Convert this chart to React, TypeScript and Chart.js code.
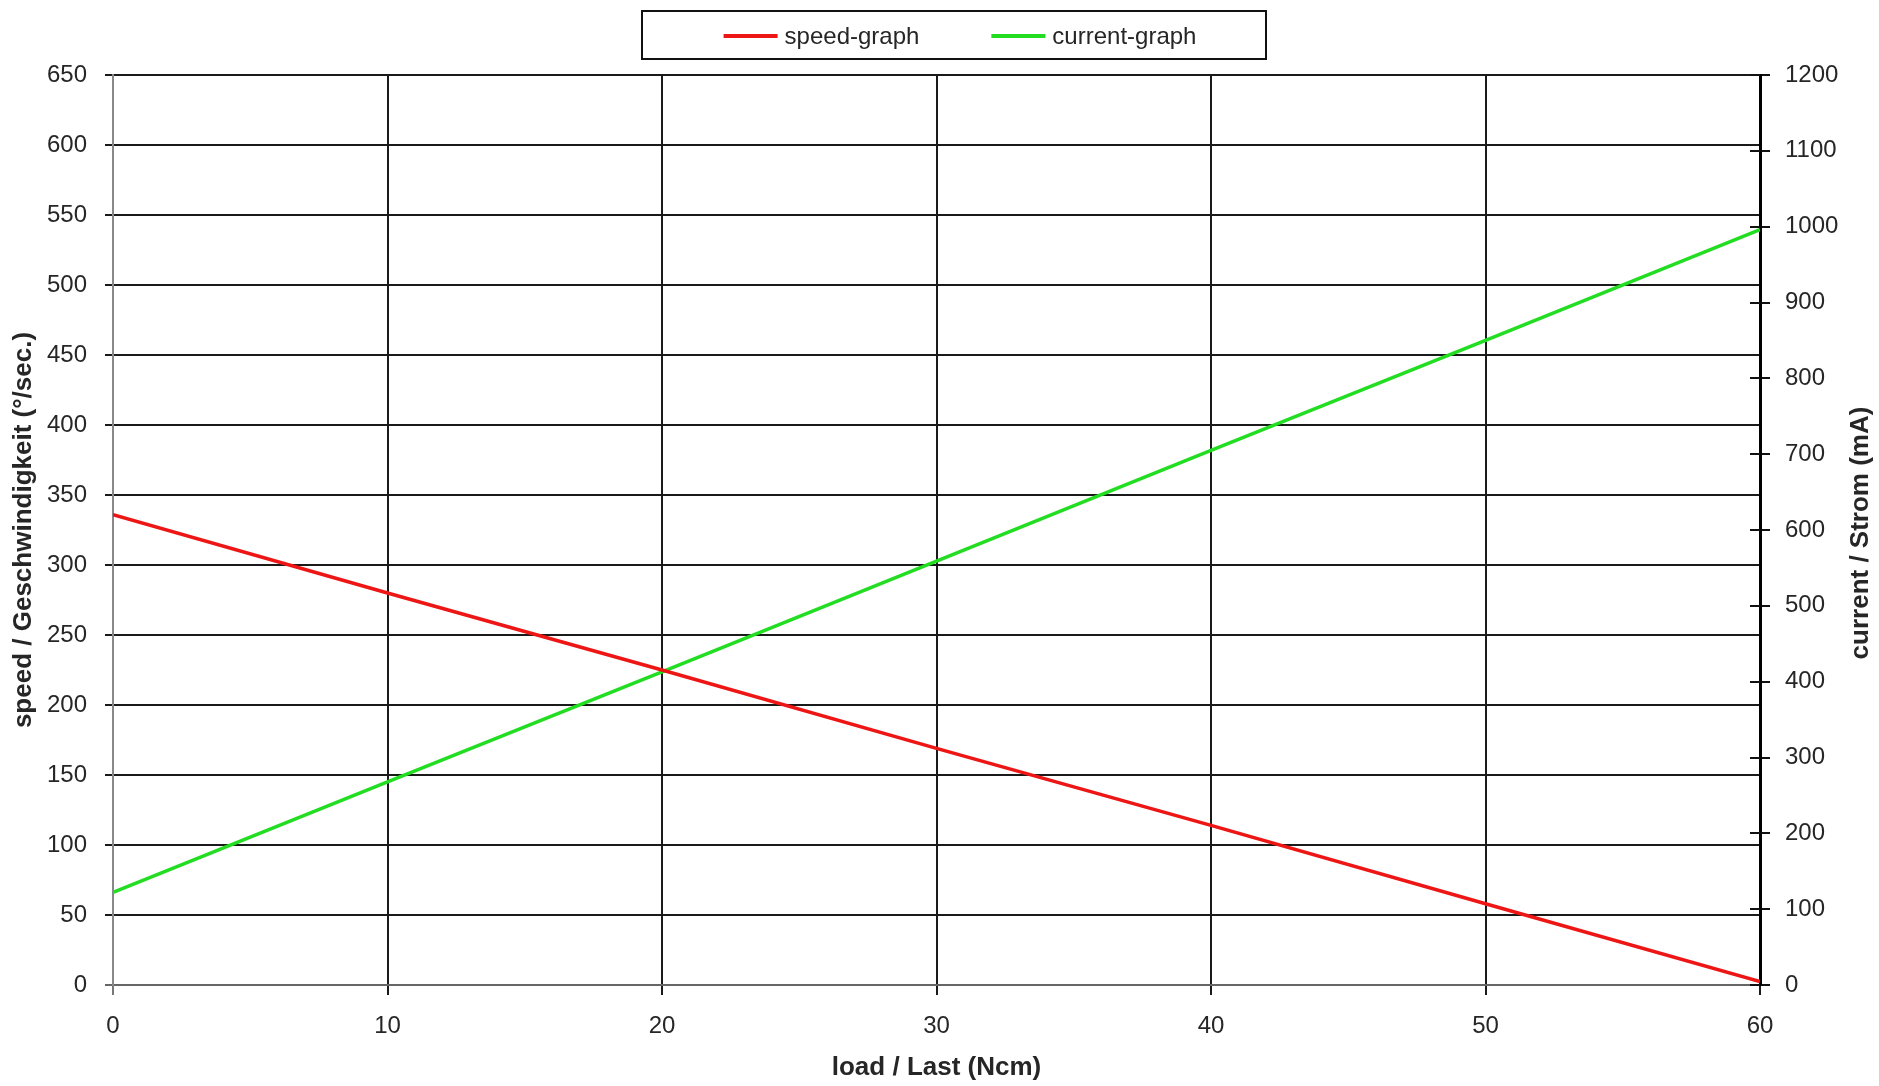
import { useEffect, useRef } from "react";
import { Chart, registerables } from "chart.js";

Chart.register(...registerables);

const loadValues = [0, 10, 20, 30, 40, 50, 60];
const speedValues = [336, 280, 225, 169, 114, 58, 2.5];
const currentValues = [122, 268, 413, 559, 705, 850, 996];
const seriesLabels = ["speed-graph", "current-graph"];
const xTitle = "load / Last (Ncm)";
const yLeftTitle = "speed / Geschwindigkeit (°/sec.)";
const yRightTitle = "current / Strom (mA)";

const FONT = '"Liberation Sans", Arial, Helvetica, sans-serif';
const TEXT = "#262626";
const GRID = "#1a1a1a";

const plainTick = (v: any) => String(v);

const legendPlugin = {
  id: "boxLegend",
  afterDraw(chart: any) {
    const ctx = chart.ctx;
    ctx.save();
    ctx.lineWidth = 2;
    ctx.strokeStyle = "#111";
    ctx.strokeRect(642, 11, 624, 48);
    ctx.font = `24px ${FONT}`;
    ctx.textBaseline = "middle";
    const items = chart.data.datasets.map((ds: any) => ({
      label: ds.label,
      color: ds.borderColor,
      w: ctx.measureText(ds.label).width,
    }));
    const lineW = 54, gap = 7, itemGap = 72;
    const total =
      items.reduce((s: number, it: any) => s + lineW + gap + it.w, 0) +
      itemGap * (items.length - 1);
    let x = 960 - total / 2;
    const y = 36;
    items.forEach((it: any) => {
      ctx.strokeStyle = it.color;
      ctx.lineWidth = 4;
      ctx.beginPath();
      ctx.moveTo(x, y);
      ctx.lineTo(x + lineW, y);
      ctx.stroke();
      ctx.fillStyle = TEXT;
      ctx.fillText(it.label, x + lineW + gap, y + 1);
      x += lineW + gap + it.w + itemGap;
    });
    ctx.restore();
  },
};

const rightAxisPlugin = {
  id: "rightAxisExtras",
  afterDraw(chart: any) {
    const ctx = chart.ctx;
    const s = chart.scales.y1;
    ctx.save();
    ctx.strokeStyle = "#111";
    ctx.lineWidth = 2;
    s.ticks.forEach((t: any) => {
      const py = Math.round(s.getPixelForValue(t.value));
      ctx.beginPath();
      ctx.moveTo(s.left - 10, py);
      ctx.lineTo(s.left, py);
      ctx.stroke();
    });
    const ca = chart.chartArea;
    ctx.translate(1861, (ca.top + ca.bottom) / 2 + 3);
    ctx.rotate(-Math.PI / 2);
    ctx.font = `bold 26px ${FONT}`;
    ctx.fillStyle = TEXT;
    ctx.textAlign = "center";
    ctx.textBaseline = "middle";
    ctx.fillText(yRightTitle, 0, 0);
    ctx.restore();
  },
};

export default function App() {
  const ref = useRef<HTMLCanvasElement | null>(null);

  useEffect(() => {
    if (!ref.current) return;
    const chart = new Chart(ref.current, {
      type: "line",
      data: {
        datasets: [
          {
            label: seriesLabels[0],
            data: loadValues.map((x, i) => ({ x, y: speedValues[i] })),
            borderColor: "#ee1515",
            backgroundColor: "#ee1515",
            borderWidth: 3.5,
            pointRadius: 0,
            yAxisID: "y",
          },
          {
            label: seriesLabels[1],
            data: loadValues.map((x, i) => ({ x, y: currentValues[i] })),
            borderColor: "#22dd22",
            backgroundColor: "#22dd22",
            borderWidth: 3.5,
            pointRadius: 0,
            yAxisID: "y1",
          },
        ],
      },
      options: {
        animation: false,
        responsive: true,
        maintainAspectRatio: false,
        layout: { padding: { top: 75, left: 0, right: 0, bottom: 0 } },
        plugins: {
          legend: { display: false },
          tooltip: { enabled: false },
        },
        scales: {
          x: {
            type: "linear",
            min: 0,
            max: 60,
            afterFit: (s: any) => {
              s.height = 101;
            },
            ticks: {
              stepSize: 10,
              padding: 17,
              color: TEXT,
              font: { family: FONT, size: 24 },
              callback: plainTick,
            },
            grid: {
              color: (c: any) => (c.index === 0 ? "#777" : GRID),
              lineWidth: 2,
              tickLength: 10,
            },
            border: { color: "#666", width: 2 },
            title: {
              display: true,
              text: xTitle,
              color: TEXT,
              font: { family: FONT, size: 26, weight: "bold" },
              padding: { top: 0, bottom: 3 },
            },
          },
          y: {
            position: "left",
            min: 0,
            max: 650,
            afterFit: (s: any) => {
              s.width = 113;
            },
            ticks: {
              stepSize: 50,
              padding: 18,
              color: TEXT,
              font: { family: FONT, size: 24 },
              callback: plainTick,
            },
            grid: {
              color: (c: any) => (c.index === 0 ? "#666" : GRID),
              lineWidth: 2,
              tickLength: 8,
            },
            border: { color: "#888", width: 2 },
            title: {
              display: true,
              text: yLeftTitle,
              color: TEXT,
              font: { family: FONT, size: 26, weight: "bold" },
              padding: { top: 8, bottom: 0 },
            },
          },
          y1: {
            position: "right",
            min: 0,
            max: 1200,
            afterFit: (s: any) => {
              s.width = 119;
            },
            ticks: {
              stepSize: 100,
              padding: 15,
              color: TEXT,
              font: { family: FONT, size: 24 },
              callback: plainTick,
            },
            grid: {
              drawOnChartArea: false,
              color: "#111",
              lineWidth: 2,
              tickLength: 10,
            },
            border: { color: "#000", width: 3 },
          },
        },
      },
      plugins: [legendPlugin, rightAxisPlugin],
    } as any);
    return () => chart.destroy();
  }, []);

  return (
    <div
      style={{
        position: "fixed",
        left: 0,
        top: 0,
        width: 1879,
        height: 1086,
        background: "#fff",
      }}
    >
      <canvas ref={ref} />
    </div>
  );
}
